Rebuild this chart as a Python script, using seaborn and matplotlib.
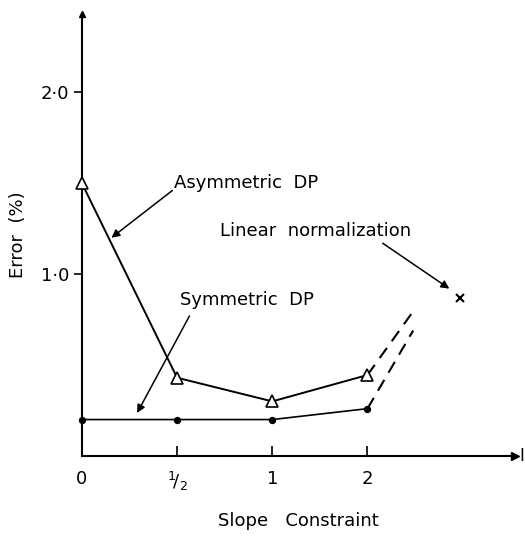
import matplotlib
matplotlib.use("Agg")
import matplotlib.pyplot as plt
import seaborn as sns
import pandas as pd

# ---- data ----
slope_pos = [0, 1, 2, 3]                 # categorical positions of slope constraints
slope_labels = ["0", r"$^{1}\!/_{2}$", "1", "2"]
asym_err = [1.50, 0.43, 0.30, 0.445]     # Asymmetric DP
sym_err = [0.20, 0.20, 0.20, 0.26]       # Symmetric DP
asym_ext_x = [3, 3.5]
asym_ext_y = [0.445, 0.81]
sym_ext_x = [3, 3.48]
sym_ext_y = [0.26, 0.69]
linear_x = [3.97]
linear_y = [0.87]
yticks = [1.0, 2.0]
ytick_labels = ["1·0", "2·0"]

sns.set_theme(style="white")
plt.rcParams["font.family"] = ["DejaVu Sans"]
plt.rcParams["text.color"] = "black"
plt.rcParams["axes.labelcolor"] = "black"

fig = plt.figure(figsize=(5.25, 5.46), dpi=100)
ax = fig.add_axes([0.156, 0.165, 0.825, 0.809])

df_a = pd.DataFrame({"x": slope_pos, "y": asym_err})
df_s = pd.DataFrame({"x": slope_pos, "y": sym_err})
sns.lineplot(data=df_a, x="x", y="y", ax=ax, color="black", lw=1.4,
             marker="^", markersize=9, markerfacecolor="white",
             markeredgecolor="black", markeredgewidth=1.2, clip_on=False, zorder=3)
sns.lineplot(data=df_s, x="x", y="y", ax=ax, color="black", lw=1.2,
             marker="o", markersize=4.5, markerfacecolor="black",
             markeredgecolor="black", clip_on=False, zorder=3)
ax.plot(asym_ext_x, asym_ext_y, color="black", lw=1.5, ls=(0, (6, 4)), zorder=2)
ax.plot(sym_ext_x, sym_ext_y, color="black", lw=1.5, ls=(0, (6, 4)), zorder=2)
ax.plot(linear_x, linear_y, ls="none", marker="x", color="black",
        markersize=6, markeredgewidth=1.5)

ax.set_xlim(0, 4.55)
ax.set_ylim(0, 2.43)

for s in ["top", "right"]:
    ax.spines[s].set_visible(False)
for s in ["left", "bottom"]:
    ax.spines[s].set_color("black")
    ax.spines[s].set_linewidth(1.5)
# arrow heads on axes
ax.plot([4.55], [0], marker=">", color="black", markersize=6, clip_on=False)
ax.plot([0], [2.43], marker="^", color="black", markersize=5, clip_on=False)
fig.text(0.993, 0.165, "I", fontsize=12, ha="center", va="center")

ax.set_xticks(slope_pos)
ax.set_xticklabels(slope_labels, fontsize=13)
ax.set_yticks(yticks)
ax.set_yticklabels(ytick_labels, fontsize=13)
ax.tick_params(axis="x", direction="in", length=7, width=1.2, pad=10,
               bottom=True, colors="black")
ax.tick_params(axis="y", direction="out", length=6, width=1.2, pad=3,
               left=True, colors="black")

ax.set_xlabel("Slope   Constraint", fontsize=13, labelpad=14)
ax.set_ylabel("Error  (%)", fontsize=13, labelpad=10)

arrowprops = dict(arrowstyle="-|>", color="black", lw=1.1, mutation_scale=12,
                  shrinkA=0, shrinkB=0)
ax.text(0.97, 1.50, "Asymmetric  DP", fontsize=13, ha="left", va="center")
ax.annotate("", xy=(0.31, 1.20), xytext=(0.95, 1.46), arrowprops=arrowprops)
ax.text(1.45, 1.235, "Linear  normalization", fontsize=13, ha="left", va="center")
ax.annotate("", xy=(3.86, 0.92), xytext=(3.16, 1.17), arrowprops=arrowprops)
ax.text(1.03, 0.855, "Symmetric  DP", fontsize=13, ha="left", va="center")
ax.annotate("", xy=(0.58, 0.236), xytext=(1.13, 0.77), arrowprops=arrowprops)

fig.savefig("out.png", dpi=100)
